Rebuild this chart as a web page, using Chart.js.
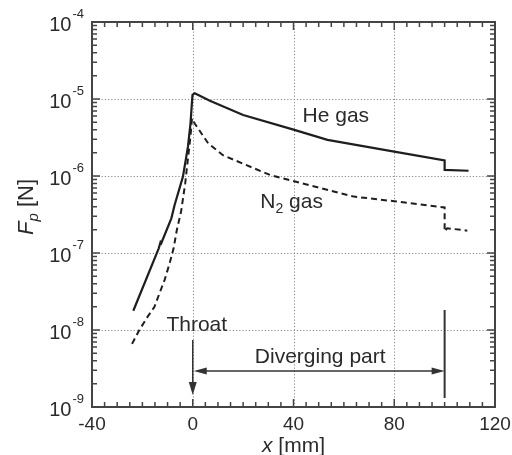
<!DOCTYPE html>
<html><head><meta charset="utf-8">
<script src="https://cdn.jsdelivr.net/npm/chart.js@4/dist/chart.umd.min.js"></script>
<style>html,body{margin:0;padding:0;background:#fff}#wrap{width:512px;height:455px}</style>
</head><body><div id="wrap"><canvas id="c" width="512" height="455"></canvas></div>
<script>
// He gas (solid)
const heX = [-23.6, -13.5, -12.8, -12.5, -8.5, -7.2, -3.9, -1.9, -0.9, -0.1, 0.8, 6.8, 20, 40, 53.5, 80, 100, 100, 109.5];
const heY = [1.78e-8, 1.15e-7, 1.38e-7, 1.34e-7, 2.82e-7, 4.2e-7, 9.8e-7, 2.4e-6, 4.8e-6, 1.13e-5, 1.19e-5, 9.5e-6, 6.2e-6, 4.0e-6, 2.95e-6, 2.07e-6, 1.59e-6, 1.2e-6, 1.17e-6];
// N2 gas (dashed)
const n2X = [-24.1, -21.2, -17.9, -15.2, -13.2, -11.2, -9.2, -7.6, -6.3, -4.6, -3.0, -1.8, -0.9, -0.3, 0.8, 6.1, 12, 31, 43, 64, 80, 100, 100, 101, 109];
const n2Y = [6.6e-9, 1.0e-8, 1.49e-8, 2.0e-8, 3.0e-8, 4.45e-8, 7.3e-8, 1.15e-7, 2.0e-7, 3.5e-7, 8.0e-7, 1.8e-6, 3.3e-6, 5.6e-6, 4.8e-6, 2.66e-6, 1.86e-6, 1.02e-6, 8.1e-7, 5.4e-7, 4.7e-7, 3.9e-7, 1.9e-7, 2.1e-7, 1.95e-7];
// Axis ticks
const xTicks = [-40, 0, 40, 80, 120];
const yExponents = [-9, -8, -7, -6, -5, -4];
const xMinorStep = 5;
// Texts
const heLabel = 'He gas';
const n2Label = ['N', '2', ' gas'];
const throatLabel = 'Throat';
const divergingLabel = 'Diverging part';
const xTitle = ['x', ' [mm]'];
const yTitle = ['F', 'p', ' [N]'];

const FONT = '"Liberation Sans", Arial, sans-serif';
const TXT = '#2a2a2a';
const LINE = '#1e1e1e';

function tri(ctx, x1,y1,x2,y2,x3,y3){ctx.beginPath();ctx.moveTo(x1,y1);ctx.lineTo(x2,y2);ctx.lineTo(x3,y3);ctx.closePath();ctx.fill();}

const deco = {
  id: 'deco',
  beforeDatasetsDraw(chart) {
    const {ctx, chartArea: a, scales: {x, y}} = chart;
    ctx.save();
    ctx.strokeStyle = '#8a8a8a'; ctx.lineWidth = 1; ctx.setLineDash([1.2, 2]);
    xTicks.slice(1, -1).forEach(v => { const px = Math.round(x.getPixelForValue(v)) + 0.5; ctx.beginPath(); ctx.moveTo(px, a.top); ctx.lineTo(px, a.bottom); ctx.stroke(); });
    yExponents.slice(1, -1).forEach(e => { const py = Math.round(y.getPixelForValue(Math.pow(10, e))) + 0.5; ctx.beginPath(); ctx.moveTo(a.left, py); ctx.lineTo(a.right, py); ctx.stroke(); });
    ctx.restore();
  },
  afterDraw(chart) {
    const {ctx, chartArea: a, scales: {x, y}} = chart;
    ctx.save();
    ctx.strokeStyle = '#444'; ctx.lineWidth = 1.5; ctx.setLineDash([]);
    const xmin = xTicks[0], xmax = xTicks[xTicks.length - 1];
    for (let v = xmin; v <= xmax; v += xMinorStep) {
      const px = x.getPixelForValue(v);
      const major = xTicks.includes(v);
      const L = major ? 8 : 5;
      ctx.beginPath(); ctx.moveTo(px, a.bottom); ctx.lineTo(px, a.bottom - L); ctx.moveTo(px, a.top); ctx.lineTo(px, a.top + L); ctx.stroke();
    }
    for (let i = 0; i < yExponents.length; i++) {
      const e = yExponents[i];
      const py = y.getPixelForValue(Math.pow(10, e));
      ctx.beginPath(); ctx.moveTo(a.left, py); ctx.lineTo(a.left + 8, py); ctx.moveTo(a.right, py); ctx.lineTo(a.right - 8, py); ctx.stroke();
      if (i < yExponents.length - 1) {
        for (let m = 2; m <= 9; m++) {
          const q = y.getPixelForValue(m * Math.pow(10, e));
          ctx.beginPath(); ctx.moveTo(a.left, q); ctx.lineTo(a.left + 5, q); ctx.moveTo(a.right, q); ctx.lineTo(a.right - 5, q); ctx.stroke();
        }
      }
    }
    ctx.lineWidth = 2; ctx.strokeStyle = '#444';
    ctx.strokeRect(a.left, a.top, a.right - a.left, a.bottom - a.top);

    ctx.fillStyle = TXT;
    ctx.font = '19px ' + FONT; ctx.textAlign = 'center'; ctx.textBaseline = 'middle';
    xTicks.forEach(v => ctx.fillText(String(v), x.getPixelForValue(v), a.bottom + 18));
    yExponents.forEach(e => {
      const py = y.getPixelForValue(Math.pow(10, e));
      ctx.font = '13px ' + FONT; ctx.textAlign = 'right'; ctx.textBaseline = 'alphabetic';
      const sup = String(e);
      const sw = ctx.measureText(sup).width;
      const right = a.left - 8;
      ctx.fillText(sup, right, py - 4);
      ctx.font = '20px ' + FONT;
      ctx.fillText('10', right - sw - 1, py + 9);
    });

    function rich(parts, cx, cy) {
      let w = 0; parts.forEach(p => { ctx.font = p.font; p.w = ctx.measureText(p.t).width; w += p.w; });
      let xx = cx - w / 2;
      ctx.textAlign = 'left'; ctx.textBaseline = 'alphabetic';
      parts.forEach(p => { ctx.font = p.font; ctx.fillText(p.t, xx, cy + (p.dy || 0)); xx += p.w; });
    }
    rich([{t: xTitle[0], font: 'italic 21px ' + FONT}, {t: xTitle[1], font: '21px ' + FONT}], x.getPixelForValue(40), 452);
    ctx.save(); ctx.translate(33, 207); ctx.rotate(-Math.PI / 2);
    rich([{t: yTitle[0], font: 'italic 22px ' + FONT}, {t: yTitle[1], font: 'italic 15px ' + FONT, dy: 5}, {t: yTitle[2], font: '22px ' + FONT}], 0, 0);
    ctx.restore();

    ctx.fillStyle = TXT;
    ctx.font = '21px ' + FONT; ctx.textAlign = 'center'; ctx.textBaseline = 'middle';
    ctx.fillText(heLabel, x.getPixelForValue(56.8), y.getPixelForValue(6.0e-6));
    ctx.fillText(throatLabel, x.getPixelForValue(1.6), y.getPixelForValue(1.16e-8));
    ctx.fillText(divergingLabel, x.getPixelForValue(50.6), y.getPixelForValue(4.47e-9));
    {
      ctx.textAlign = 'left'; ctx.textBaseline = 'alphabetic';
      let xx = x.getPixelForValue(26.8); const by = y.getPixelForValue(3.84e-7);
      ctx.font = '21px ' + FONT; ctx.fillText(n2Label[0], xx, by); xx += ctx.measureText(n2Label[0]).width;
      ctx.font = '14px ' + FONT; ctx.fillText(n2Label[1], xx, by + 5); xx += ctx.measureText(n2Label[1]).width;
      ctx.font = '21px ' + FONT; ctx.fillText(n2Label[2], xx, by);
    }
    ctx.strokeStyle = '#333'; ctx.fillStyle = '#333'; ctx.lineWidth = 1.5;
    const x0 = x.getPixelForValue(0), x100 = x.getPixelForValue(100);
    const yTop = y.getPixelForValue(7.4e-9), yTip = y.getPixelForValue(1.43e-9);
    ctx.beginPath(); ctx.moveTo(x0, yTop); ctx.lineTo(x0, yTip - 10); ctx.stroke();
    tri(ctx, x0, yTip, x0 - 4, yTip - 13, x0 + 4, yTip - 13);
    const yh = y.getPixelForValue(2.94e-9);
    ctx.beginPath(); ctx.moveTo(x0 + 10, yh); ctx.lineTo(x100 - 10, yh); ctx.stroke();
    tri(ctx, x0 + 1, yh, x0 + 14, yh - 3.5, x0 + 14, yh + 3.5);
    tri(ctx, x100, yh, x100 - 13, yh - 3.5, x100 - 13, yh + 3.5);
    ctx.lineWidth = 2;
    ctx.beginPath(); ctx.moveTo(x100, y.getPixelForValue(1.82e-8)); ctx.lineTo(x100, y.getPixelForValue(1.31e-9)); ctx.stroke();
    ctx.restore();
  }
};

new Chart(document.getElementById('c'), {
  type: 'line',
  data: {
    datasets: [
      {label: 'He gas', data: heX.map((v, i) => ({x: v, y: heY[i]})), borderColor: LINE, borderWidth: 2.2, pointRadius: 0, tension: 0, fill: false},
      {label: 'N2 gas', data: n2X.map((v, i) => ({x: v, y: n2Y[i]})), borderColor: LINE, borderWidth: 2, borderDash: [6, 4], pointRadius: 0, tension: 0, fill: false}
    ]
  },
  options: {
    responsive: false, animation: false, devicePixelRatio: 1,
    layout: {padding: {left: 92, right: 17, top: 22, bottom: 48}},
    plugins: {legend: {display: false}, tooltip: {enabled: false}},
    scales: {
      x: {type: 'linear', min: -40, max: 120, grid: {display: false, drawTicks: false}, border: {display: false}, ticks: {display: false}},
      y: {type: 'logarithmic', min: 1e-9, max: 1e-4, grid: {display: false, drawTicks: false}, border: {display: false}, ticks: {display: false}}
    }
  },
  plugins: [deco]
});
</script></body></html>
